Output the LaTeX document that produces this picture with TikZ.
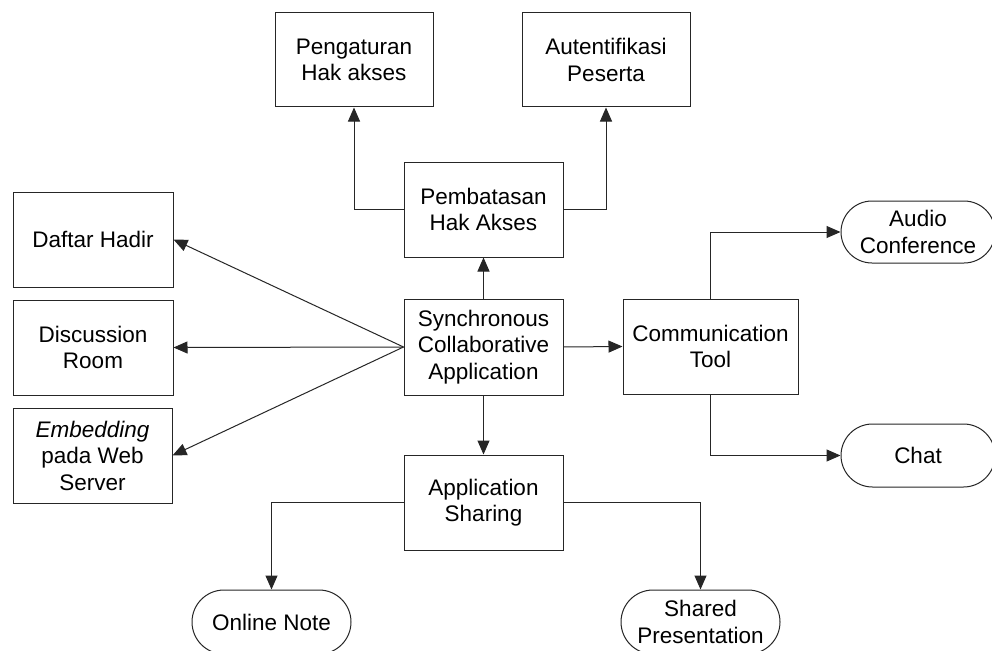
\documentclass[tikz,border=0pt]{standalone}
\usepackage{fontspec}
\setmainfont{Liberation Sans}
\usetikzlibrary{arrows.meta,shapes.misc}

\tikzset{
  base/.style={draw=black!85, line width=1pt, align=center, inner sep=0pt,
    font=\fontsize{22.5}{26.5}\selectfont},
  box/.style={base, rectangle},
  pill/.style={base, rounded rectangle, rounded rectangle arc length=180},
  arr/.style={draw=black!85, line width=1pt, -{Triangle[length=14pt,width=12pt]}}
}

\begin{document}
\begin{tikzpicture}[x=1pt, y=-1pt]
  \useasboundingbox (0,0) rectangle (992,650);
  \fill[white] (0,0) rectangle (992,650);

  % top row
  \node[box, minimum width=158, minimum height=94] (peng) at (354,60) {Pengaturan\\Hak akses};
  \node[box, minimum width=168, minimum height=94] (auth) at (606,60) {Autentifikasi\\Peserta};

  % central column
  \node[box, minimum width=159, minimum height=95] (pemb) at (483.5,209.5) {Pembatasan\\Hak Akses};
  \node[box, minimum width=159, minimum height=96] (sync) at (483.5,347) {Synchronous\\Collaborative\\Application};
  \node[box, minimum width=159, minimum height=95] (apps) at (483.5,502.5) {Application\\Sharing};

  % left column
  \node[box, minimum width=160, minimum height=95] (daftar) at (93,239.5) {Daftar Hadir};
  \node[box, minimum width=160, minimum height=95] (disc) at (93,347.5) {Discussion\\Room};
  \node[box, minimum width=159, minimum height=95] (embed) at (92.5,455.5) {\textit{Embedding}\\pada Web\\Server};

  % right side
  \node[box, minimum width=175, minimum height=95] (comm) at (710.5,346.5) {Communication\\Tool};
  \node[pill, minimum width=154, minimum height=62] (audio) at (918,232) {Audio\\Conference};
  \node[pill, minimum width=154, minimum height=63] (chat) at (918,455.5) {Chat};

  % bottom row
  \node[pill, minimum width=159, minimum height=64] (online) at (271.5,622) {Online Note};
  \node[pill, minimum width=159, minimum height=64] (shared) at (700.5,622) {Shared\\Presentation};

  % connectors
  \draw[arr] (pemb.west) -| (peng.south);
  \draw[arr] (pemb.east) -| (auth.south);
  \draw[arr] (sync.north) -- (pemb.south);
  \draw[arr] (sync.west) -- (daftar.east);
  \draw[arr] (sync.west) -- (disc.east);
  \draw[arr] (sync.west) -- (embed.east);
  \draw[arr] (sync.east) -- (comm.west);
  \draw[arr] (comm.north) |- (audio.west);
  \draw[arr] (comm.south) |- (chat.west);
  \draw[arr] (sync.south) -- (apps.north);
  \draw[arr] (apps.west) -| (online.north);
  \draw[arr] (apps.east) -| (shared.north);
\end{tikzpicture}
\end{document}
